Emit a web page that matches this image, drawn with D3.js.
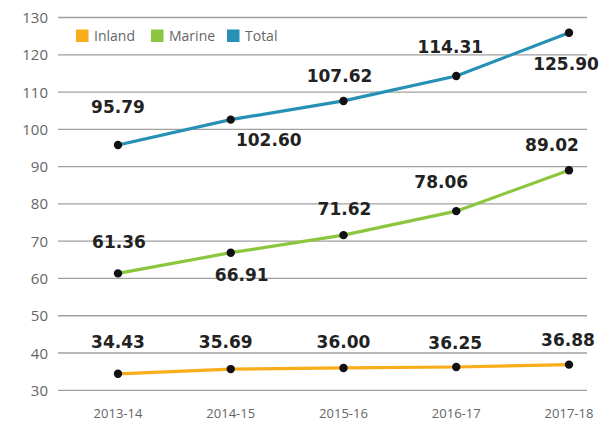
<!DOCTYPE html>
<html><head><meta charset="utf-8">
<script src="https://cdn.jsdelivr.net/npm/d3@7"></script>
<style>body{margin:0;background:#fff}svg{display:block}</style>
</head><body><svg id="c" width="601" height="421"></svg>
<script>
const categories = ["2013-14","2014-15","2015-16","2016-17","2017-18"];
const inland = [34.43, 35.69, 36.00, 36.25, 36.88];
const marine = [61.36, 66.91, 71.62, 78.06, 89.02];
const total = [95.79, 102.60, 107.62, 114.31, 125.90];
const yTicks = [30,40,50,60,70,80,90,100,110,120,130];
const seriesNames = ["Inland","Marine","Total"];
const colors = ["#F9AD1A","#8CC63F","#2690B5"];

const svg = d3.select("#c");
const x = d3.scalePoint().domain(categories).range([118, 569]);
const y = d3.scaleLinear().domain([30,130]).range([390.3, 17.5]);

// grid
svg.append("g").selectAll("line").data(yTicks).join("line")
  .attr("x1",58).attr("x2",587).attr("y1",d=>y(d)).attr("y2",d=>y(d))
  .attr("stroke","#a0a0a0").attr("stroke-width",1.3);
svg.append("g").selectAll("text").data(yTicks).join("text")
  .attr("x",48).attr("y",d=>y(d)+5.5).attr("text-anchor","end")
  .attr("font-family","Open Sans").attr("font-size",15).attr("fill","#666")
  .text(d=>d);
svg.append("g").selectAll("text").data(categories).join("text")
  .attr("x",d=>x(d)).attr("y",418).attr("text-anchor","middle")
  .attr("font-family","Open Sans").attr("font-size",13).attr("fill","#666")
  .text(d=>d);

const allSeries = [inland, marine, total];
// label offsets [dx, dy] relative to point
const offsets = [
  [[0,-26],[-5,-21],[0,-20],[-1,-18],[-1,-19]],
  [[1,-25],[11,28],[1,-20],[-15,-23],[-17,-19]],
  [[0,-32],[38,26],[-4,-19],[-6,-23],[-3,37]]
];
const line = d3.line().x((d,i)=>x(categories[i])).y(d=>y(d));
allSeries.forEach((s,k)=>{
  svg.append("path").datum(s).attr("d",line).attr("fill","none")
    .attr("stroke",colors[k]).attr("stroke-width",3.2);
});
allSeries.forEach((s,k)=>{
  svg.append("g").selectAll("circle").data(s).join("circle")
    .attr("cx",(d,i)=>x(categories[i])).attr("cy",d=>y(d)).attr("r",4.2).attr("fill","#111");
  svg.append("g").selectAll("text").data(s).join("text")
    .attr("x",(d,i)=>x(categories[i])+offsets[k][i][0])
    .attr("y",(d,i)=>y(d)+offsets[k][i][1])
    .attr("text-anchor","middle").attr("font-family","DejaVu Sans").attr("font-weight","bold")
    .attr("font-size",17).attr("fill","#222").text(d=>d.toFixed(2));
});

// legend
const lx = [76,151,227];
seriesNames.forEach((n,k)=>{
  svg.append("rect").attr("x",lx[k]).attr("y",29.5).attr("width",12.5).attr("height",12.5).attr("fill",colors[k]);
  svg.append("text").attr("x",lx[k]+18).attr("y",40.5).attr("font-family","Open Sans")
    .attr("font-size",14).attr("fill","#666").text(n);
});
</script></body></html>
